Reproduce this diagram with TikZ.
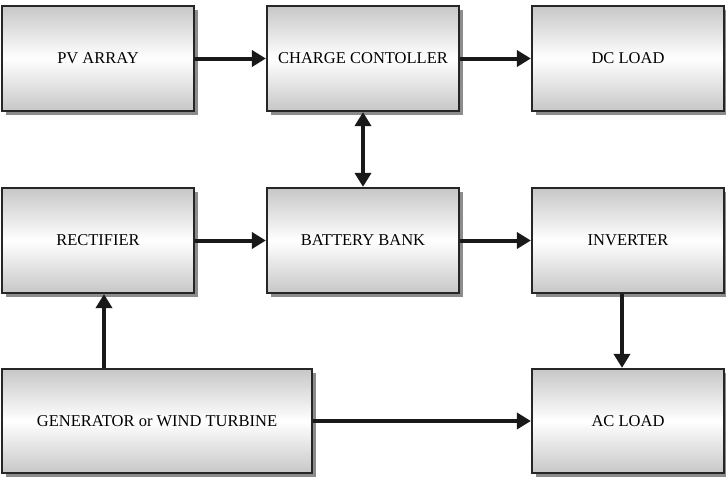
\documentclass[tikz,border=0pt]{standalone}
\usepackage{fontspec}
\setmainfont{Liberation Serif}
\usetikzlibrary{arrows.meta,shadows}
\begin{document}
\begin{tikzpicture}[x=1pt,y=-1pt,
  blockbox/.style={draw=black!85,line width=2.2pt,minimum width=192pt,minimum height=105pt,
    top color=black!22,bottom color=black!22,middle color=white,
    font=\fontsize{16.5}{19}\selectfont,inner sep=0pt,
    drop shadow={shadow xshift=4pt,shadow yshift=-4pt,fill=black!45,opacity=1}},
  arr/.style={draw=black!90,line width=4pt,-{Triangle[length=14pt,width=16pt]}},
  darr/.style={draw=black!90,line width=4pt,{Triangle[length=14pt,width=16pt]}-{Triangle[length=14pt,width=16pt]}}]
\useasboundingbox (0,0) rectangle (726,477);
\node[blockbox] (pv) at (98,58.5) {PV ARRAY};
\node[blockbox] (cc) at (363,58.5) {CHARGE CONTOLLER};
\node[blockbox] (dc) at (628,58.5) {DC LOAD};
\node[blockbox] (rect) at (98,240.5) {RECTIFIER};
\node[blockbox] (bb) at (363,240.5) {BATTERY BANK};
\node[blockbox] (inv) at (628,240.5) {INVERTER};
\node[blockbox,minimum width=310pt,minimum height=104pt] (gen) at (157,421) {GENERATOR or WIND TURBINE};
\node[blockbox,minimum height=104pt] (ac) at (628,421) {AC LOAD};
\draw[arr] (pv) -- (cc);
\draw[arr] (cc) -- (dc);
\draw[darr] (cc) -- (bb);
\draw[arr] (rect) -- (bb);
\draw[arr] (bb) -- (inv);
\draw[arr] ([xshift=6pt]rect.south |- gen.north) -- ([xshift=6pt]rect.south);
\draw[arr] ([xshift=-6pt]inv.south) -- ([xshift=-6pt]inv.south |- ac.north);
\draw[arr] (gen.east) -- (ac.west);
\end{tikzpicture}
\end{document}
